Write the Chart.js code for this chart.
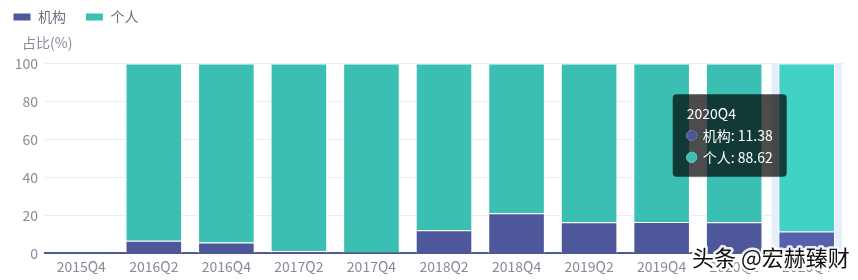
<!DOCTYPE html>
<html>
<head>
<meta charset="utf-8">
<script src="https://cdn.jsdelivr.net/npm/chart.js@4"></script>
<style>
  html, body { margin: 0; padding: 0; background: #fff; }
  #wrap { position: relative; width: 858px; height: 280px; }
</style>
</head>
<body>
<div id="wrap">
  <canvas id="c"></canvas>
</div>
<script>
// 季度
const quarters = ['2015Q4', '2016Q2', '2016Q4', '2017Q2', '2017Q4', '2018Q2', '2018Q4', '2019Q2', '2019Q4', '2020Q2', '2020Q4'];
// 机构 / 个人 占比(%)
const jigou = [0, 6.5, 5.6, 1.1, 0.4, 12.1, 21.0, 16.3, 16.5, 16.3, 11.38];
const geren = [0, 93.5, 94.4, 98.9, 99.6, 87.9, 79.0, 83.7, 83.5, 83.7, 88.62];
const yTicks = [0, 20, 40, 60, 80, 100];
const activeIdx = 10;

const font = '"Noto Sans CJK SC", "Noto Sans", sans-serif';

// 悬停列的浅色背景 + 轴标题 + 水印
const extras = {
  id: 'extras',
  beforeDatasetsDraw(chart) {
    const { ctx, chartArea, scales } = chart;
    const step = scales.x.getPixelForValue(1) - scales.x.getPixelForValue(0);
    const cx = scales.x.getPixelForValue(activeIdx);
    ctx.save();
    ctx.fillStyle = '#e6eefb';
    ctx.fillRect(cx - step * 0.485, chartArea.top, step * 0.97, chartArea.bottom - chartArea.top);
    ctx.restore();
  },
  afterDraw(chart) {
    const { ctx } = chart;
    ctx.save();
    ctx.font = '14px ' + font;
    ctx.fillStyle = '#8a8a9a';
    ctx.textBaseline = 'middle';
    ctx.fillText('占比(%)', 22, 43);

    ctx.font = '22px ' + font;
    ctx.lineJoin = 'round';
    ctx.lineWidth = 5;
    ctx.strokeStyle = 'rgba(255,255,255,0.9)';
    ctx.strokeText('头条 @宏赫臻财', 692, 258);
    ctx.fillStyle = '#111';
    ctx.fillText('头条 @宏赫臻财', 692, 258);
    ctx.restore();
  }
};

Chart.Tooltip.positioners.fixed = function (items) {
  if (!items.length) return false;
  const x = items[0].element.x;
  return { x: x - 20, y: this.chart.scales.y.getPixelForValue(62), xAlign: 'right', yAlign: 'center' };
};

const chart = new Chart(document.getElementById('c'), {
  type: 'bar',
  data: {
    labels: quarters,
    datasets: [
      {
        label: '机构',
        data: jigou,
        backgroundColor: '#4e5799',
        hoverBackgroundColor: '#5561aa',
        borderColor: '#fff',
        hoverBorderColor: '#fff',
        borderWidth: 1
      },
      {
        label: '个人',
        data: geren,
        backgroundColor: '#3bbfb2',
        hoverBackgroundColor: '#41d1c5',
        borderColor: '#fff',
        hoverBorderColor: '#fff',
        borderWidth: 1
      }
    ]
  },
  options: {
    responsive: true,
    maintainAspectRatio: false,
    animation: false,
    events: [],
    layout: { padding: { left: 3, right: 15, top: 0, bottom: 0 } },
    datasets: { bar: { categoryPercentage: 1, barPercentage: 0.78 } },
    scales: {
      x: {
        stacked: true,
        grid: { display: false, drawTicks: false },
        border: { color: '#4e5799', width: 2 },
        ticks: { color: '#8a8a9a', font: { family: font, size: 14 }, padding: 5, maxRotation: 0, autoSkip: false }
      },
      y: {
        stacked: true,
        min: 0,
        max: 100,
        afterBuildTicks(axis) { axis.ticks = yTicks.map(v => ({ value: v })); },
        afterFit(axis) { axis.width = 42; },
        grid: { color: '#ebebf3', drawTicks: false },
        border: { display: false },
        ticks: { color: '#8a8a9a', font: { family: font, size: 14 }, padding: 7 }
      }
    },
    plugins: {
      legend: {
        position: 'top',
        align: 'start',
        labels: {
          boxWidth: 18,
          boxHeight: 8,
          color: '#6e6e7e',
          font: { family: font, size: 14 },
          padding: 10,
          generateLabels(chart) {
            const items = Chart.defaults.plugins.legend.labels.generateLabels(chart);
            items.forEach(it => { it.text = it.text + '   '; });
            return items;
          }
        }
      },
      title: {
        display: true,
        text: '',
        padding: { top: 0, bottom: 15 },
        weight: 500
      },
      tooltip: {
        enabled: true,
        position: 'fixed',
        backgroundColor: 'rgba(0,0,0,0.7)',
        titleColor: '#fff',
        bodyColor: '#fff',
        titleFont: { family: font, size: 14, weight: 'normal' },
        bodyFont: { family: font, size: 14 },
        padding: { left: 14, right: 14, top: 11, bottom: 11 },
        titleMarginBottom: 5,
        bodySpacing: 5,
        caretSize: 0,
        caretPadding: 0,
        cornerRadius: 4,
        usePointStyle: true,
        boxWidth: 10,
        boxHeight: 10,
        boxPadding: 4,
        callbacks: {
          label: (c) => c.dataset.label + ': ' + c.parsed.y,
          labelColor: (c) => ({ borderColor: c.dataset.backgroundColor, backgroundColor: c.dataset.backgroundColor })
        },
        labelPointStyle: () => ({ pointStyle: 'circle', rotation: 0 })
      }
    }
  },
  plugins: [extras]
});

const act = [{ datasetIndex: 0, index: activeIdx }, { datasetIndex: 1, index: activeIdx }];
chart.setActiveElements(act);
chart.tooltip.setActiveElements(act, { x: 800, y: 130 });
chart.update();
</script>
</body>
</html>
